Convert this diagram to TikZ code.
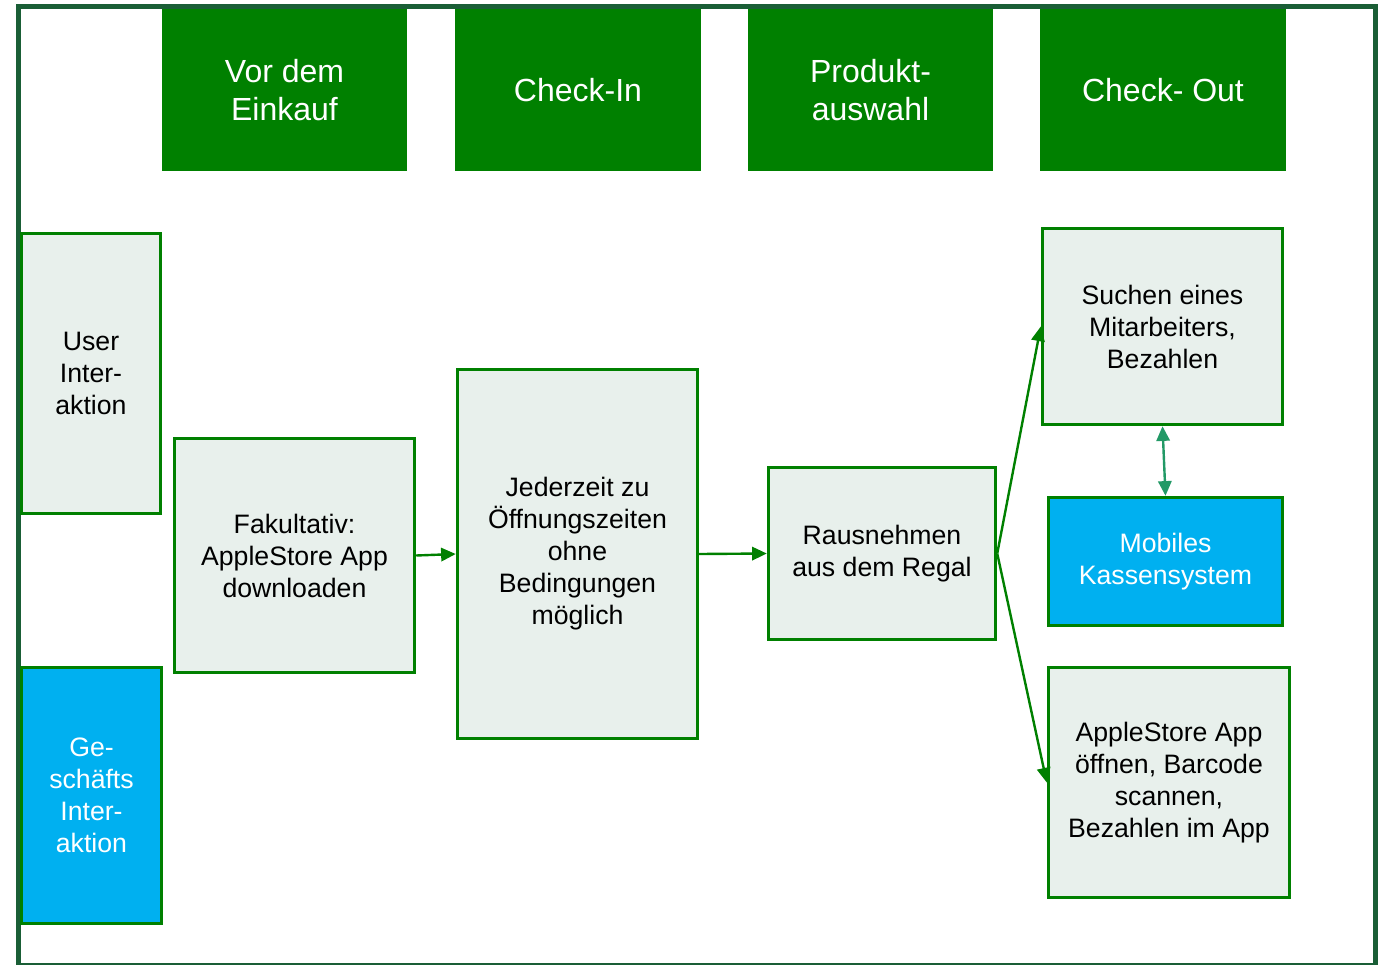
\documentclass[tikz,border=0pt]{standalone}
\usepackage{fontspec}
\setmainfont{Liberation Sans}
\usetikzlibrary{arrows.meta}
\usetikzlibrary{positioning}
\definecolor{phasegreen}{HTML}{008000}
\definecolor{framegreen}{HTML}{1A5E36}
\definecolor{paleback}{HTML}{E8F0EC}
\definecolor{shopblue}{HTML}{00B0F0}
\definecolor{linkgreen}{HTML}{229966}
\tikzset{phasebox/.style={fill=phasegreen, text=white, inner sep=0pt, align=center, minimum height=121.5pt, font=\fontsize{24}{28.5}\selectfont}}
\tikzset{stepbox/.style={draw=phasegreen, line width=2.6pt, fill=paleback, inner sep=0pt, align=center, font=\fontsize{20}{24}\selectfont}}
\tikzset{shopbox/.style={stepbox, fill=shopblue, text=white}}
\tikzset{flow/.style={draw=phasegreen, line width=1.8pt, -{Triangle[length=11pt, width=10pt]}}}
\tikzset{twoway/.style={draw=linkgreen, line width=1.8pt, {Triangle[length=11pt, width=10pt]}-{Triangle[length=11pt, width=10pt]}}}

\begin{document}
\begin{tikzpicture}[x=0.75pt, y=-0.75pt]

\useasboundingbox (0,0) rectangle (1378,964);
\draw[framegreen, line width=3.75pt] (18.5,6.5) rectangle (1375,965.5);

% phases
\node[phasebox, minimum width=183.75pt] (before) at (284.5, 90) {Vor dem\\Einkauf};
\node[phasebox, minimum width=184.5pt] (checkin) at (578, 90) {Check-In};
\node[phasebox, minimum width=183.75pt] (choice) at (870.5, 90) {Produkt-\\auswahl};
\node[phasebox, minimum width=184.5pt] (checkout) at (1163, 90) {Check- Out};

% rows
\node[stepbox, minimum width=104.25pt, minimum height=210pt] (user) at (91, 373.5) {User\\Inter-\\aktion};
\node[shopbox, minimum width=105pt, minimum height=192pt] (shop) at (91.5, 795.5) {Ge-\\schäfts\\Inter-\\aktion};

% steps
\node[stepbox, minimum width=180pt, minimum height=175.5pt] (optional) at (294.5, 555.5) {Fakultativ:\\AppleStore App\\downloaden};
\node[stepbox, minimum width=180pt, minimum height=276.75pt] (anytime) at (577.5, 554) {Jederzeit zu\\Öffnungszeiten\\ohne\\Bedingungen\\möglich};
\node[stepbox, minimum width=170.25pt, minimum height=129pt] (take) at (882, 553.5) {Rausnehmen\\aus dem Regal};
\node[stepbox, minimum width=180pt, minimum height=147pt] (staff) at (1162.5, 326.5) {Suchen eines\\Mitarbeiters,\\Bezahlen};
\node[shopbox, minimum width=175.5pt, minimum height=96pt] (till) at (1165.5, 561.5) {Mobiles\\Kassensystem};
\node[stepbox, minimum width=180.75pt, minimum height=172.5pt] (selfpay) at (1169, 782.5) {AppleStore App\\öffnen, Barcode\\scannen,\\Bezahlen im App};

% links
\draw[flow] (optional.east) -- (anytime.west);
\draw[flow] (anytime.east) -- (take.west);
\draw[flow] (take.east) -- (staff.west);
\draw[flow] (take.east) -- (selfpay.west);
\draw[twoway] (staff.south) -- (till.north);

\end{tikzpicture}
\end{document}
